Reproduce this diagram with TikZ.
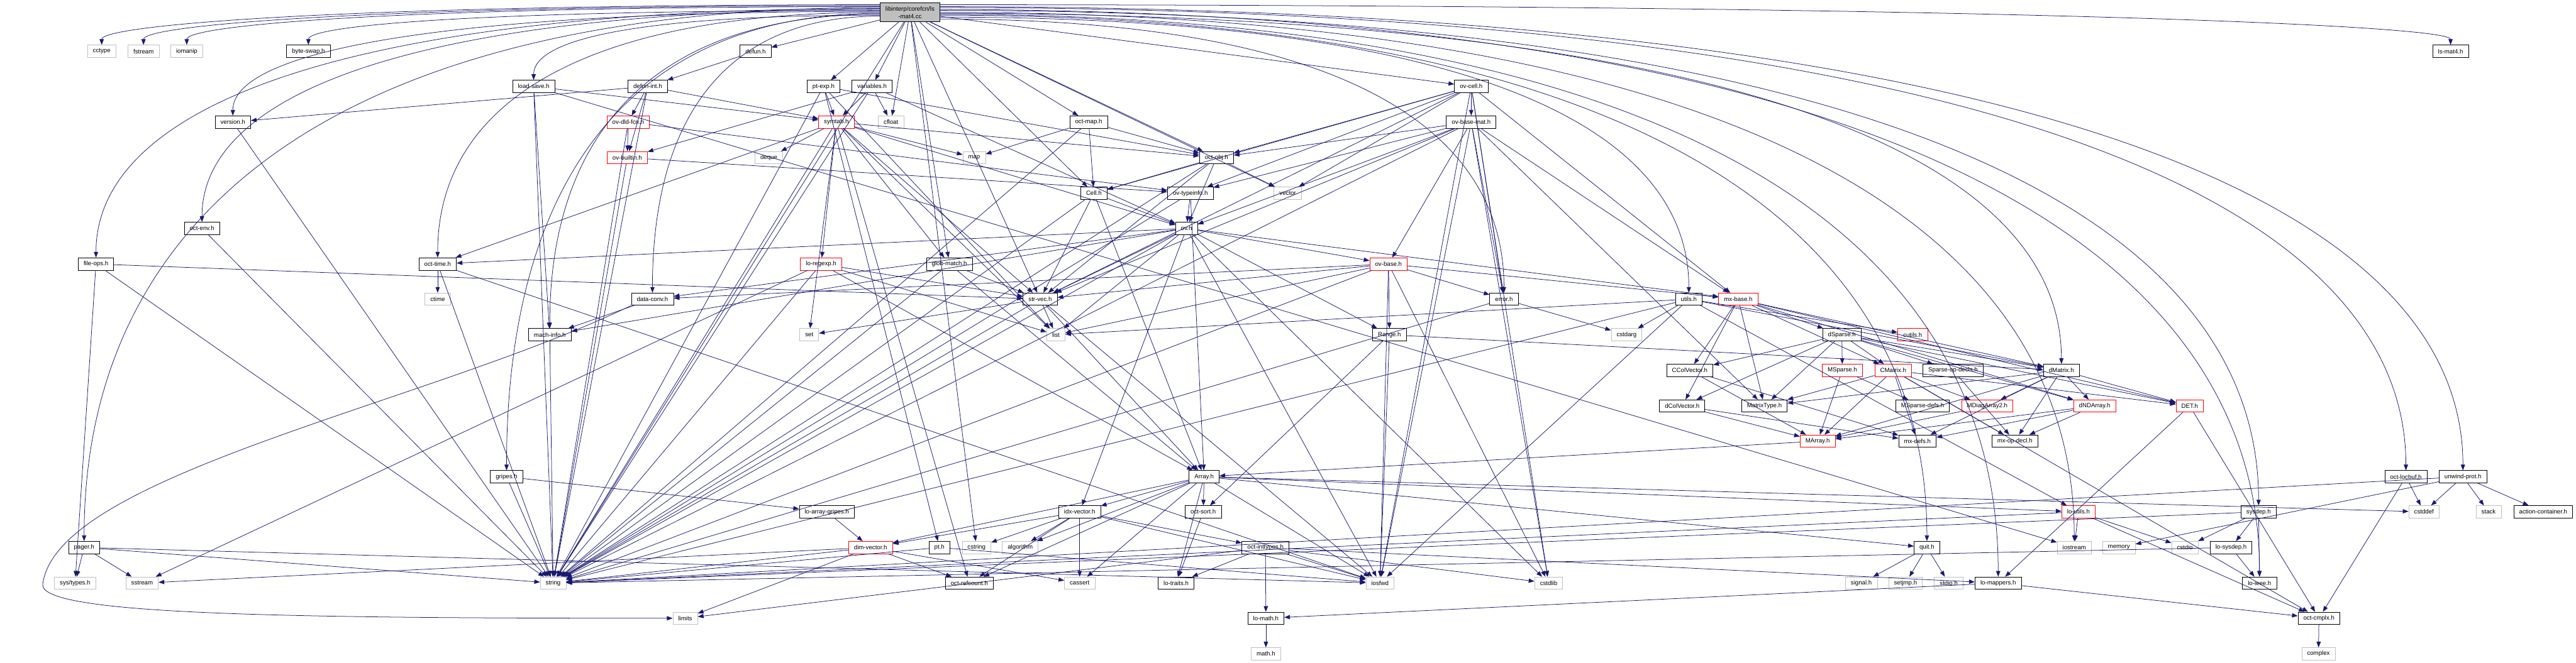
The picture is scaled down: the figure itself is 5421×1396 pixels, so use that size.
\documentclass[tikz,border=0pt]{standalone}
\usepackage{fontspec}
\setmainfont{Liberation Sans}
\usetikzlibrary{arrows.meta,calc}
\definecolor{edgeblue}{HTML}{191970}
\definecolor{grayb}{HTML}{BFBFBF}
\newcommand\E[2]{\draw[e] (#1) -- (#2);}
\newcommand\TL[4]{\draw[e] ([yshift=#1]T.west) .. controls +(-#3,0) and +(0,-#4) .. (#2.north);}
\newcommand\TR[4]{\draw[e] ([yshift=#1]T.east) .. controls +(#3,0) and +(0,-#4) .. (#2.north);}
\begin{document}
\begin{tikzpicture}[x=0.5pt,y=-0.5pt,
  nb/.style={draw, fill=white, line width=0.5pt, minimum height=13pt, inner xsep=5.7pt, inner ysep=0pt, font=\fontsize{6.4}{7.5}\selectfont},
  bk/.style={nb, draw=black},
  gr/.style={nb, draw=grayb},
  rd/.style={nb, draw=red},
  e/.style={draw=edgeblue, line width=0.5pt, -{Triangle[length=6pt,width=4.5pt]}}]
\fill[white] (0,0) rectangle (5421,1396);
\useasboundingbox (0,0) rectangle (5421,1396);
% nodes
\node[bk, fill=grayb, minimum height=20pt, align=center, font=\fontsize{6.4}{8}\selectfont] (T) at (1915,26) {libinterp/corefcn/ls\\-mat4.cc};
\node[gr] (cctype) at (214,108) {cctype};
\node[gr] (fstream) at (302,108) {fstream};
\node[gr] (iomanip) at (393,108) {iomanip};
\node[bk] (byteswap) at (649,108) {byte-swap.h};
\node[bk] (defun) at (1590,108) {defun.h};
\node[bk] (lsmat4h) at (5157,108) {ls-mat4.h};
\node[bk] (loadsave) at (1123,182) {load-save.h};
\node[bk] (defunint) at (1363,182) {defun-int.h};
\node[bk] (ptexp) at (1733,182) {pt-exp.h};
\node[bk] (variables) at (1835,182) {variables.h};
\node[bk] (ovcell) at (3096,182) {ov-cell.h};
\node[bk] (version) at (490,257) {version.h};
\node[rd] (ovdld) at (1322,257) {ov-dld-fcn.h};
\node[rd] (symtab) at (1760,257) {symtab.h};
\node[gr] (cfloat) at (1875,257) {cfloat};
\node[bk] (octmap) at (2291,257) {oct-map.h};
\node[bk] (ovbasemat) at (3096,257) {ov-base-mat.h};
\node[rd] (ovbuiltin) at (1320,332) {ov-builtin.h};
\node[gr] (deque) at (1618,332) {deque};
\node[gr] (map) at (2050,332) {map};
\node[bk] (octobj) at (2560,332) {oct-obj.h};
\node[bk] (cell) at (2302,407) {Cell.h};
\node[bk] (ovtypeinfo) at (2505,407) {ov-typeinfo.h};
\node[gr] (vector) at (2710,407) {vector};
\node[bk] (octenv) at (425,481) {oct-env.h};
\node[bk] (ovh) at (2497,481) {ov.h};
\node[bk] (fileops) at (202,556) {file-ops.h};
\node[bk] (octtime) at (921,556) {oct-time.h};
\node[rd] (loregexp) at (1728,556) {lo-regexp.h};
\node[bk] (globmatch) at (1998,556) {glob-match.h};
\node[rd] (ovbase) at (2922,556) {ov-base.h};
\node[gr] (ctime) at (921,630) {ctime};
\node[bk] (dataconv) at (1373,630) {data-conv.h};
\node[bk] (strvec) at (2189,630) {str-vec.h};
\node[bk] (error) at (3165,630) {error.h};
\node[bk] (utils) at (3554,630) {utils.h};
\node[rd] (mxbase) at (3658,630) {mx-base.h};
\node[bk] (machinfo) at (1157,705) {mach-info.h};
\node[gr] (set) at (1703,705) {set};
\node[gr] (list) at (2222,705) {list};
\node[bk] (range) at (2924,705) {Range.h};
\node[gr] (cstdarg) at (3423,705) {cstdarg};
\node[bk] (dsparse) at (3876,705) {dSparse.h};
\node[rd] (cutils) at (4025,705) {cutils.h};
\node[bk] (ccolvec) at (3556,780) {CColVector.h};
\node[rd] (msparse) at (3877,780) {MSparse.h};
\node[rd] (cmatrix) at (3984,780) {CMatrix.h};
\node[bk] (sparseop) at (4110,780) {Sparse-op-decls.h};
\node[bk] (dmatrix) at (4338,780) {dMatrix.h};
\node[bk] (dcolvec) at (3540,855) {dColVector.h};
\node[bk] (matrixtype) at (3713,855) {MatrixType.h};
\node[bk] (msparsedefs) at (4046,855) {MSparse-defs.h};
\node[rd] (mdiag) at (4182,855) {MDiagArray2.h};
\node[rd] (dndarray) at (4408,855) {dNDArray.h};
\node[rd] (det) at (4608,855) {DET.h};
\node[rd] (marray) at (3825,929) {MArray.h};
\node[bk] (mxdefs) at (4035,929) {mx-defs.h};
\node[bk] (mxopdecl) at (4240,929) {mx-op-decl.h};
\node[bk] (gripes) at (1066,1004) {gripes.h};
\node[bk] (array) at (2534,1004) {Array.h};
\node[bk] (octlocbuf) at (5063,1004) {oct-locbuf.h};
\node[bk] (unwind) at (5183,1004) {unwind-prot.h};
\node[bk] (loarraygripes) at (1740,1078) {lo-array-gripes.h};
\node[bk] (idxvector) at (2272,1078) {idx-vector.h};
\node[bk] (octsort) at (2532,1078) {oct-sort.h};
\node[rd] (loutils) at (4374,1078) {lo-utils.h};
\node[bk] (sysdep) at (4753,1078) {sysdep.h};
\node[gr] (cstddef) at (5101,1078) {cstddef};
\node[gr] (stack) at (5237,1078) {stack};
\node[bk] (actioncont) at (5352,1078) {action-container.h};
\node[bk] (pager) at (177,1153) {pager.h};
\node[rd] (dimvector) at (1832,1153) {dim-vector.h};
\node[bk] (pth) at (1977,1153) {pt.h};
\node[gr] (cstring) at (2055,1153) {cstring};
\node[gr] (algorithm) at (2147,1153) {algorithm};
\node[bk] (octinttypes) at (2663,1153) {oct-inttypes.h};
\node[bk] (quit) at (4055,1153) {quit.h};
\node[gr] (iostream) at (4365,1153) {iostream};
\node[gr] (memory) at (4459,1153) {memory};
\node[gr] (cstdio) at (4598,1153) {cstdio};
\node[bk] (losysdep) at (4695,1153) {lo-sysdep.h};
\node[gr] (systypes) at (158,1228) {sys/types.h};
\node[gr] (sstream) at (299,1228) {sstream};
\node[gr] (string) at (1164,1228) {string};
\node[bk] (octrefcount) at (2040,1228) {oct-refcount.h};
\node[gr] (cassert) at (2272,1228) {cassert};
\node[bk] (lotraits) at (2475,1228) {lo-traits.h};
\node[gr] (iosfwd) at (2904,1228) {iosfwd};
\node[gr] (cstdlib) at (3259,1228) {cstdlib};
\node[gr] (signal) at (3917,1228) {signal.h};
\node[gr] (setjmp) at (4010,1228) {setjmp.h};
\node[gr] (stdio) at (4101,1228) {stdio.h};
\node[bk] (lomappers) at (4205,1228) {lo-mappers.h};
\node[bk] (loieee) at (4755,1228) {lo-ieee.h};
\node[gr] (limits) at (1442,1302) {limits};
\node[bk] (lomath) at (2664,1302) {lo-math.h};
\node[bk] (octcmplx) at (4880,1302) {oct-cmplx.h};
\node[gr] (mathh) at (2664,1377) {math.h};
\node[gr] (complex) at (4879,1377) {complex};
% edges from the top node
\TL{8pt}{cctype}{1146}{41}
\TL{7pt}{fstream}{1084}{41}
\TL{6pt}{iomanip}{1021}{41}
\TL{5pt}{pager}{1172}{668}
\TL{4pt}{fileops}{1154}{310}
\TL{3pt}{octenv}{998}{265}
\TL{2pt}{byteswap}{841}{41}
\TL{1pt}{version}{953}{131}
\TL{0pt}{octtime}{651}{310}
\TL{-1pt}{gripes}{550}{579}
\TL{-2pt}{machinfo}{486}{400}
\TL{-3pt}{loadsave}{510}{86}
\TL{-4pt}{dataconv}{335}{355}
\TR{8pt}{lsmat4h}{2225}{41}
\TR{6pt}{unwind}{2244}{579}
\TR{5pt}{octlocbuf}{2160}{579}
\TR{3pt}{loieee}{1944}{713}
\TR{2pt}{sysdep}{1943}{623}
\TR{0pt}{iostream}{1671}{668}
\TR{-1pt}{dmatrix}{1652}{445}
\TR{-2pt}{lomappers}{1559}{713}
\TR{-3pt}{quit}{1454}{668}
\TR{-5pt}{utils}{1103}{355}
\TR{-7pt}{error}{831}{355}
\E{T}{defun} \E{T}{ptexp} \E{T}{variables} \E{T}{cfloat} \E{T}{globmatch}
\E{T}{strvec} \E{T}{cstring} \E{T}{octmap} \E{T}{cell} \E{T}{octobj}
\E{T}{vector} \E{T}{ovcell} \E{T}{string}
% other edges
\E{defun}{defunint}
\E{defunint}{version} \E{defunint}{ovdld} \E{defunint}{ovbuiltin} \E{defunint}{symtab} \E{defunint}{string}
\E{loadsave}{machinfo} \E{loadsave}{symtab} \E{loadsave}{string} \E{loadsave}{iostream}
\E{ovdld}{ovbuiltin} \E{ovdld}{ovtypeinfo} \E{ovdld}{string}
\E{ovbuiltin}{ovtypeinfo} \E{ovbuiltin}{string}
\E{version}{string}
\E{ptexp}{symtab} \E{ptexp}{octobj} \E{ptexp}{pth} \E{ptexp}{string} \E{ptexp}{list}
\E{variables}{symtab} \E{variables}{cfloat} \E{variables}{ovbuiltin} \E{variables}{ovh} \E{variables}{string}
\E{symtab}{deque} \E{symtab}{map} \E{symtab}{list} \E{symtab}{set} \E{symtab}{string}
\E{symtab}{globmatch} \E{symtab}{loregexp} \E{symtab}{octobj} \E{symtab}{ovh} \E{symtab}{strvec}
\E{symtab}{octtime} \E{symtab}{octrefcount}
\E{octmap}{map} \E{octmap}{cell} \E{octmap}{octobj} \E{octmap}{string}
\E{octobj}{cell} \E{octobj}{ovh} \E{octobj}{vector} \E{octobj}{strvec} \E{octobj}{string}
\E{cell}{array} \E{cell}{strvec} \E{cell}{ovh} \E{cell}{string}
\E{ovtypeinfo}{ovh} \E{ovtypeinfo}{array} \E{ovtypeinfo}{string}
\E{ovcell}{ovbasemat} \E{ovcell}{cell} \E{ovcell}{ovtypeinfo} \E{ovcell}{octobj} \E{ovcell}{mxbase}
\E{ovcell}{strvec} \E{ovcell}{error} \E{ovcell}{vector} \E{ovcell}{cstdlib} \E{ovcell}{iosfwd}
\E{ovbasemat}{ovbase} \E{ovbasemat}{ovh} \E{ovbasemat}{ovtypeinfo} \E{ovbasemat}{octobj} \E{ovbasemat}{mxbase}
\E{ovbasemat}{matrixtype} \E{ovbasemat}{strvec} \E{ovbasemat}{error} \E{ovbasemat}{cstdlib} \E{ovbasemat}{iosfwd}
\E{ovbasemat}{string}
\E{octenv}{string}
\E{ovh}{range} \E{ovh}{dataconv} \E{ovh}{idxvector} \E{ovh}{machinfo} \E{ovh}{mxbase} \E{ovh}{octtime}
\E{ovh}{strvec} \E{ovh}{ovbase} \E{ovh}{cstdlib} \E{ovh}{iosfwd} \E{ovh}{string} \E{ovh}{list}
\E{fileops}{systypes} \E{fileops}{string} \E{fileops}{strvec}
\E{octtime}{ctime} \E{octtime}{string} \E{octtime}{iosfwd}
\E{loregexp}{list} \E{loregexp}{sstream} \E{loregexp}{string} \E{loregexp}{array} \E{loregexp}{strvec}
\E{globmatch}{array} \E{globmatch}{strvec} \E{globmatch}{string}
\E{ovbase}{range} \E{ovbase}{dataconv} \E{ovbase}{mxbase} \E{ovbase}{strvec} \E{ovbase}{error}
\E{ovbase}{cstdlib} \E{ovbase}{iosfwd} \E{ovbase}{list} \E{ovbase}{string}
\E{dataconv}{machinfo}
\draw[e] (dataconv.south west) .. controls (900,850) and (120,1000) .. (90,1230) .. controls (80,1295) and (600,1302) .. (limits.west);
\E{strvec}{array} \E{strvec}{list} \E{strvec}{set} \E{strvec}{string} \E{strvec}{iosfwd}
\E{error}{cstdarg} \E{error}{string}
\E{utils}{cstdarg} \E{utils}{iosfwd} \E{utils}{string} \E{utils}{list} \E{utils}{dmatrix} \E{utils}{loutils} \E{utils}{cutils}
\E{mxbase}{matrixtype} \E{mxbase}{dcolvec} \E{mxbase}{ccolvec} \E{mxbase}{dmatrix} \E{mxbase}{cmatrix}
\E{mxbase}{dsparse} \E{mxbase}{dndarray} \E{mxbase}{det}
\E{machinfo}{string}
\E{range}{iosfwd} \E{range}{dmatrix} \E{range}{octsort}
\E{dsparse}{dmatrix} \E{dsparse}{dndarray} \E{dsparse}{ccolvec} \E{dsparse}{dcolvec} \E{dsparse}{cmatrix}
\E{dsparse}{det} \E{dsparse}{msparse} \E{dsparse}{sparseop} \E{dsparse}{matrixtype}
\E{ccolvec}{marray} \E{ccolvec}{mxdefs}
\E{dcolvec}{marray} \E{dcolvec}{mxdefs}
\E{msparse}{marray} \E{msparse}{msparsedefs}
\E{cmatrix}{marray} \E{cmatrix}{matrixtype} \E{cmatrix}{mxdefs} \E{cmatrix}{mxopdecl} \E{cmatrix}{det}
\E{cmatrix}{mdiag} \E{cmatrix}{octcmplx}
\E{sparseop}{mxopdecl}
\E{dmatrix}{marray} \E{dmatrix}{mdiag} \E{dmatrix}{matrixtype} \E{dmatrix}{mxdefs} \E{dmatrix}{mxopdecl}
\E{dmatrix}{det} \E{dmatrix}{dndarray}
\E{dndarray}{marray} \E{dndarray}{mxdefs} \E{dndarray}{mxopdecl}
\E{det}{octcmplx} \E{det}{lomappers}
\E{mdiag}{marray}
\E{marray}{array}
\E{gripes}{loarraygripes} \E{gripes}{string}
\E{array}{cstddef} \E{array}{quit} \E{array}{loutils} \E{array}{cassert} \E{array}{iosfwd} \E{array}{algorithm}
\E{array}{dimvector} \E{array}{idxvector} \E{array}{lotraits} \E{array}{octsort} \E{array}{octrefcount}
\E{octlocbuf}{cstddef} \E{octlocbuf}{octcmplx}
\E{unwind}{cstddef} \E{unwind}{string} \E{unwind}{stack} \E{unwind}{actioncont} \E{unwind}{memory}
\E{loarraygripes}{dimvector}
\E{idxvector}{cassert} \E{idxvector}{algorithm} \E{idxvector}{cstring} \E{idxvector}{iosfwd}
\E{idxvector}{dimvector} \E{idxvector}{octinttypes} \E{idxvector}{octrefcount}
\E{octsort}{lotraits}
\E{loutils}{cstdio} \E{loutils}{iostream} \E{loutils}{string} \E{loutils}{octcmplx}
\E{sysdep}{cstdio} \E{sysdep}{string} \E{sysdep}{loieee} \E{sysdep}{losysdep}
\E{pager}{systypes} \E{pager}{sstream} \E{pager}{string} \E{pager}{iosfwd}
\E{dimvector}{cassert} \E{dimvector}{limits} \E{dimvector}{sstream} \E{dimvector}{string} \E{dimvector}{octrefcount}
\E{pth}{string} \E{pth}{iosfwd}
\E{octinttypes}{limits} \E{octinttypes}{lomath} \E{octinttypes}{lotraits} \E{octinttypes}{iosfwd}
\E{octinttypes}{cstdlib} \E{octinttypes}{lomappers}
\E{quit}{stdio} \E{quit}{signal} \E{quit}{setjmp}
\E{losysdep}{string} \E{losysdep}{loieee}
\E{lomappers}{octcmplx} \E{lomappers}{lomath}
\E{lomath}{mathh}
\E{octcmplx}{complex}
\end{tikzpicture}
\end{document}
